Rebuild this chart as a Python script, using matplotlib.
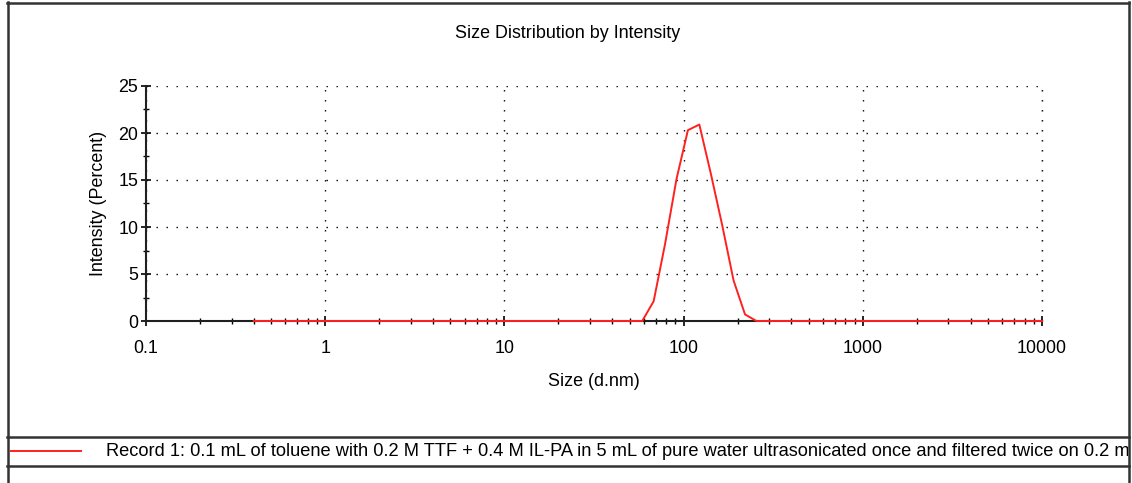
import numpy as np
import matplotlib.pyplot as plt
from matplotlib.lines import Line2D
from matplotlib.ticker import FixedLocator, LogLocator, NullFormatter

plt.rcParams['font.family'] = ['Liberation Sans', 'DejaVu Sans']

# size bins (d.nm) and intensity (%)
size_nm = [0.4, 58.77, 68.06, 78.82, 91.28, 105.7, 122.4, 141.8, 164.2, 190.1, 220.2, 255.0, 10000]
intensity = [0, 0, 2.1, 8.2, 15.1, 20.3, 20.9, 15.7, 10.2, 4.3, 0.7, 0, 0]
x_ticks = [0.1, 1, 10, 100, 1000, 10000]
x_labels = ['0.1', '1', '10', '100', '1000', '10000']
y_ticks = [0, 5, 10, 15, 20, 25]
title = 'Size Distribution by Intensity'
record = ('Record 1: 0.1 mL of toluene with 0.2 M TTF + 0.4 M IL-PA in 5 mL of pure water '
          'ultrasonicated once and filtered twice on 0.2 mm')

FS = 12.9
W, H = 1132, 483
fig = plt.figure(figsize=(W / 100, H / 100), dpi=100)

def fx(px):
    return px / W

def fy(py):
    return 1 - py / H

ax = fig.add_axes([fx(146), fy(321), fx(1042) - fx(146), fy(86) - fy(321)])
ax.plot(size_nm, intensity, color='#ff2020', lw=1.4, zorder=5, clip_on=False)
ax.set_xscale('log')
ax.set_xlim(0.1, 10000)
ax.set_ylim(0, 25)

ax.xaxis.set_major_locator(FixedLocator(x_ticks))
ax.set_xticklabels(x_labels)
ax.xaxis.set_minor_locator(LogLocator(base=10, subs=np.arange(2, 10)))
ax.xaxis.set_minor_formatter(NullFormatter())
ax.set_yticks(y_ticks)
ax.set_yticks(np.arange(2.5, 25, 5), minor=True)

ax.tick_params(which='major', direction='inout', length=7, width=1.2, labelsize=FS,
               colors='black', pad=10)
ax.tick_params(which='minor', direction='inout', length=4.5, width=1.0)
ax.tick_params(axis='y', which='major', pad=2)

for s in ['top', 'right']:
    ax.spines[s].set_visible(False)
for s in ['left', 'bottom']:
    ax.spines[s].set_linewidth(1.5)
    ax.spines[s].set_color('#202020')

grid_style = dict(color='black', lw=1.0, ls=(0, (1, 6.2)))
ax.grid(True, which='major', **grid_style)
ax.axvline(x_ticks[-1], clip_on=False, zorder=0.5, **grid_style)
ax.set_axisbelow(True)

ax.set_xlabel('Size (d.nm)', fontsize=FS, labelpad=12)
ax.set_ylabel('Intensity (Percent)', fontsize=FS, labelpad=8)

fig.text(fx(568), fy(34), title, ha='center', va='center', fontsize=FS)

# frame around the report
frame = dict(color='#333333', lw=1.8, transform=fig.transFigure)
fig.add_artist(Line2D([fx(7), fx(1129)], [fy(2.5), fy(2.5)], **frame))
fig.add_artist(Line2D([fx(7.5), fx(7.5)], [fy(2), 0], **frame))
fig.add_artist(Line2D([fx(1129), fx(1129)], [fy(2), 0], **frame))
fig.add_artist(Line2D([fx(7), fx(1129)], [fy(437), fy(437)], **frame))
fig.add_artist(Line2D([fx(7), fx(1129)], [fy(466), fy(466)], **frame))

# legend row
lax = fig.add_axes([fx(8), fy(465), fx(1128) - fx(8), fy(438) - fy(465)])
lax.set_xlim(8, 1128)
lax.set_ylim(465, 438)
lax.axis('off')
lax.plot([11, 81], [450.7, 450.7], color='#ff2020', lw=1.4)
lax.text(106, 452, record, ha='left', va='center', fontsize=13.15, clip_on=True)

fig.savefig('out.png', dpi=100)
